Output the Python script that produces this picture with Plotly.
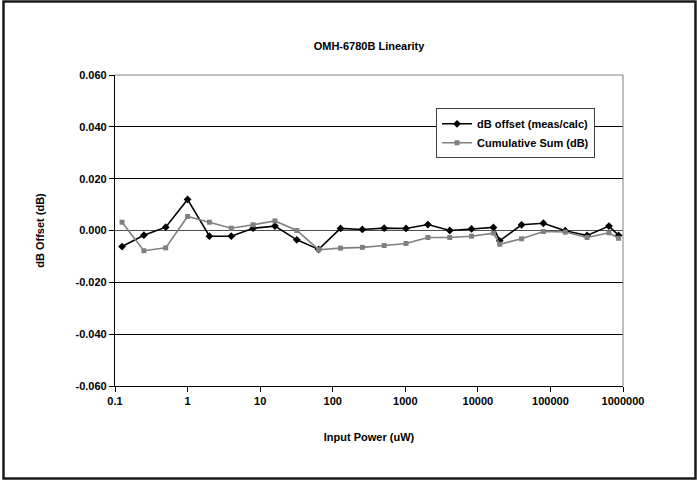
import plotly.graph_objects as go

x_power = [0.125, 0.25, 0.5, 1, 2, 4, 8, 16, 32, 64, 128, 256, 512, 1024,
           2048, 4096, 8192, 16384, 20000, 40000, 80000, 160000, 320000, 640000, 870000]
db_offset = [-0.0062, -0.0018, 0.0013, 0.0120, -0.0022, -0.0022, 0.0009, 0.0017, -0.0036, -0.0073,
             0.0008, 0.0004, 0.0009, 0.0008, 0.0023, 0.0000, 0.0006, 0.0012, -0.0040, 0.0022,
             0.0028, -0.0001, -0.0019, 0.0017, -0.0019]
cum_sum = [0.0032, -0.0078, -0.0067, 0.0054, 0.0032, 0.0009, 0.0022, 0.0037, 0.0000, -0.0074,
           -0.0068, -0.0065, -0.0058, -0.0050, -0.0027, -0.0027, -0.0022, -0.0010, -0.0053, -0.0032,
           -0.0004, -0.0006, -0.0027, -0.0009, -0.0030]

x_tickvals = [0.1, 1, 10, 100, 1000, 10000, 100000, 1000000]
x_ticktext = ["0.1", "1", "10", "100", "1000", "10000", "100000", "1000000"]
y_tickvals = [-0.06, -0.04, -0.02, 0.0, 0.02, 0.04, 0.06]
y_ticktext = ["-0.060", "-0.040", "-0.020", "0.000", "0.020", "0.040", "0.060"]

FONT = "Liberation Sans, Arial, sans-serif"
BOLD = dict(size=11, family=FONT, color="black", weight="bold")

fig = go.Figure()
fig.add_trace(go.Scatter(
    x=x_power, y=db_offset, mode="lines+markers", name="dB offset (meas/calc)",
    line=dict(color="#000000", width=1.6),
    marker=dict(symbol="diamond", size=6, color="#000000"),
))
fig.add_trace(go.Scatter(
    x=x_power, y=cum_sum, mode="lines+markers", name="Cumulative Sum (dB)",
    line=dict(color="#808080", width=1.6),
    marker=dict(symbol="square", size=5, color="#808080"),
))

fig.update_layout(
    width=697, height=480,
    margin=dict(l=115, r=74, t=75, b=94),
    paper_bgcolor="white", plot_bgcolor="white",
    font=dict(family=FONT, size=11, color="black"),
    title=dict(text="OMH-6780B Linearity", x=369 / 697, xanchor="center",
               y=1 - 46 / 480, yanchor="middle", font=BOLD),
    showlegend=True,
    legend=dict(x=0.632, y=0.893, xanchor="left", yanchor="top",
                bgcolor="white", bordercolor="#404040", borderwidth=1,
                font=BOLD, tracegroupgap=0, itemwidth=30),
    shapes=[dict(type="rect", xref="paper", yref="paper",
                 x0=-0.2195, x1=1.1427, y0=-0.2974, y1=1.2363,
                 line=dict(color="#1a1a1a", width=2.5), layer="below"),
            dict(type="line", xref="paper", yref="paper", x0=0, x1=1, y0=1, y1=1,
                 line=dict(color="#808080", width=1)),
            dict(type="line", xref="paper", yref="paper", x0=1, x1=1, y0=0, y1=1,
                 line=dict(color="#808080", width=1))],
)

fig.update_xaxes(
    type="log", range=[-1, 6], tickvals=x_tickvals, ticktext=x_ticktext,
    tickfont=BOLD, showgrid=False, zeroline=False,
    showline=True, linecolor="black", linewidth=1.2,
    ticks="outside", ticklen=5, tickcolor="black",
    title=dict(text="Input Power (uW)", font=BOLD, standoff=27),
)
fig.update_yaxes(
    range=[-0.06, 0.06], tickvals=y_tickvals, ticktext=y_ticktext,
    tickfont=BOLD, showgrid=True, gridcolor="black", gridwidth=1,
    zeroline=True, zerolinecolor="#505050", zerolinewidth=1,
    showline=True, linecolor="black", linewidth=1.2,
    ticks="outside", ticklen=5, tickcolor="black",
    title=dict(text="dB Offset (dB)", font=BOLD, standoff=28),
)

fig.write_html("out.html", config={"displayModeBar": False},
               post_script="document.body.style.margin='0';document.body.style.overflow='hidden';")
